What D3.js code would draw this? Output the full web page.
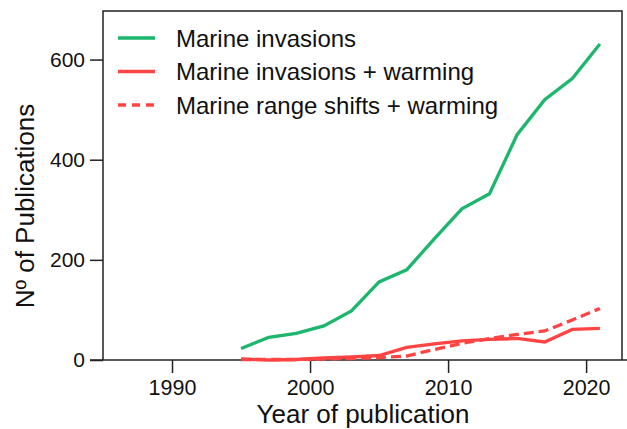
<!DOCTYPE html>
<html><head><meta charset="utf-8">
<script src="https://cdn.jsdelivr.net/npm/d3@7"></script>
<style>
html,body{margin:0;padding:0;background:#fff;}
text{font-family:"Liberation Sans",Arial,sans-serif;fill:#111;}
</style></head>
<body>
<svg id="chart" width="627" height="429"></svg>
<script>
const years = [1995,1997,1999,2001,2003,2005,2007,2009,2011,2013,2015,2017,2019,2021];
const marineInvasions = [23,45,53,68,98,156,180,242,302,332,450,520,562,631];
const invasionsWarming = [2,0,1,4,6,9,25,32,38,41,43,36,61,63];
const rangeShiftsWarming = [1,1,1,2,3,5,8,21,33,43,51,58,80,103];
const xTicks = [1990,2000,2010,2020];
const yTicks = [0,200,400,600];
const seriesNames = ["Marine invasions","Marine invasions + warming","Marine range shifts + warming"];

(function(){
const svg = d3.select("#chart");
const pl = 103, pr = 622, pt = 11, pb = 360;
const x = d3.scaleLinear().domain([1985, 2022.6]).range([pl, pr]);
const y = d3.scaleLinear().domain([0, 697]).range([pb, pt]);

const series = [
  {name: seriesNames[0], values: marineInvasions, color: "#1cb66d", dash: null},
  {name: seriesNames[1], values: invasionsWarming, color: "#ff4444", dash: null},
  {name: seriesNames[2], values: rangeShiftsWarming, color: "#ff4444", dash: "10,5"}
];

// frame
svg.append("path")
  .attr("d", `M${pl},${pb}V${pt}H${pr}V${pb}`)
  .attr("fill","none").attr("stroke","#222").attr("stroke-width",1.5);

// x axis
const xAxis = svg.append("g").attr("transform",`translate(0,${pb})`)
  .call(d3.axisBottom(x).tickValues(xTicks).tickFormat(d3.format("d")).tickSize(13).tickPadding(7).tickSizeOuter(0));
xAxis.select(".domain").remove();
xAxis.append("line").attr("x1",90).attr("x2",627).attr("stroke","#222").attr("stroke-width",1.5);
xAxis.selectAll(".tick line").attr("stroke","#222").attr("stroke-width",1.5);
xAxis.selectAll(".tick text").attr("font-size",21.5).style("font-family",'"Liberation Sans",Arial,sans-serif').attr("fill","#111");

// y axis
const yAxis = svg.append("g").attr("transform",`translate(${pl},0)`)
  .call(d3.axisLeft(y).tickValues(yTicks).tickSize(13).tickPadding(5).tickSizeOuter(0));
yAxis.select(".domain").remove();
yAxis.selectAll(".tick line").attr("stroke","#222").attr("stroke-width",1.5);
yAxis.selectAll(".tick text").attr("font-size",21).style("font-family",'"Liberation Sans",Arial,sans-serif').attr("fill","#111");

// lines
const line = d3.line().x((d,i)=>x(years[i])).y(d=>y(d));
series.forEach(s=>{
  svg.append("path").datum(s.values)
    .attr("d", line).attr("fill","none")
    .attr("stroke", s.color).attr("stroke-width",3.3)
    .attr("stroke-dasharray", s.dash);
});

// legend
const lg = svg.append("g");
series.forEach((s,i)=>{
  const cy = 38 + i*33.5;
  lg.append("line").attr("x1",118).attr("x2",155).attr("y1",cy).attr("y2",cy)
    .attr("stroke",s.color).attr("stroke-width",3.3).attr("stroke-dasharray", s.dash ? "8,6" : null);
  lg.append("text").attr("x",176).attr("y",cy+8.5).attr("font-size",24).text(s.name);
});

// axis titles
svg.append("text").attr("x",363).attr("y",423).attr("text-anchor","middle").attr("font-size",26).text("Year of publication");
svg.append("text").attr("transform","translate(34,206) rotate(-90)").attr("text-anchor","middle").attr("font-size",26).text("Nº of Publications");
})();
</script>
</body></html>
